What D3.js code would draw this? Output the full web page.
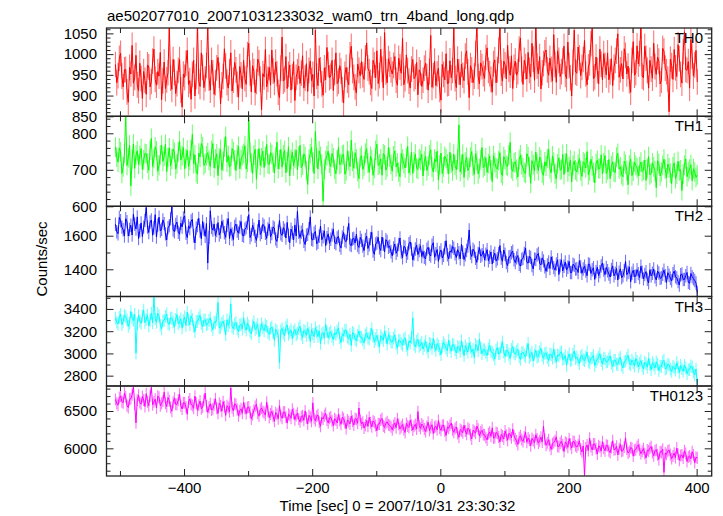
<!DOCTYPE html>
<html><head><meta charset="utf-8">
<script src="https://cdn.jsdelivr.net/npm/d3@7"></script>
<style>
body{margin:0;background:#fff}
svg{display:block}
text{font-family:"Liberation Sans",Arial,Helvetica,sans-serif;fill:#000}
</style>
</head><body>
<svg id="c" width="723" height="516"></svg>
<script>
const title = "ae502077010_20071031233032_wam0_trn_4band_long.qdp";
const xLabel = "Time [sec] 0 = 2007/10/31 23:30:32";
const yLabel = "Counts/sec";
const bandNames = ["TH0","TH1","TH2","TH3","TH0123"];
const bandColors = ["#ff0000","#00ff00","#0000ff","#00ffff","#ff00ff"];
const timeStart = -507, binSize = 2;

const th0 = [
975,931,948,990,1002,947,921,962,963,909,884,968,952,1021,930,944,997,926,912,978,941,893,958,937,
903,974,969,921,934,983,1012,939,925,958,947,1004,890,936,981,917,938,955,1068,942,915,987,956,905,
929,961,987,913,872,952,944,978,1009,927,936,891,951,985,899,946,1071,934,922,1003,968,919,940,973,
1065,942,913,985,955,903,931,967,992,949,880,926,946,1013,971,932,918,958,1003,911,937,980,962,927,
896,970,950,916,985,941,927,999,1026,954,909,972,958,907,934,988,979,940,866,953,945,1011,921,939,
968,925,1010,959,932,981,953,908,895,966,1041,935,939,994,917,951,974,913,946,982,888,944,957,971,
929,954,996,918,942,977,910,961,983,936,951,899,1058,947,924,990,962,928,901,967,938,1016,975,943,
947,985,912,956,1003,929,935,972,959,914,882,951,968,937,926,998,1019,960,944,921,906,976,961,948,
982,950,939,991,1027,966,958,932,917,985,974,943,1008,929,948,1012,963,919,1052,957,931,989,976,962,
952,973,994,937,925,990,969,954,1038,926,941,998,960,935,918,964,987,941,946,980,902,962,955,922,
937,966,978,946,913,958,1045,920,948,983,924,952,966,915,889,975,951,938,1001,929,930,984,943,961,
1062,941,919,988,957,926,976,949,936,995,1008,957,895,972,962,931,947,1001,1072,946,928,979,970,953,
941,992,1015,961,953,939,908,977,986,931,962,1009,1066,954,935,983,974,940,1021,964,949,996,917,968,
983,949,958,1012,1039,963,927,985,970,940,1004,961,945,1026,988,937,1074,971,952,994,916,955,977,1003,
1010,962,949,990,963,935,1047,975,932,1008,985,946,958,983,1019,951,941,1029,972,943,899,980,1058,957,
954,1017,991,948,968,987,1033,952,926,969,979,1025,1062,941,945,993,960,928,1012,976,938,1001,973,950,
1003,938,957,989,924,968,985,1007,1049,944,962,977,940,1013,997,952,971,936,908,985,1030,949,955,1020,
976,1001,1068,947,943,1019,990,961,918,985,964,942,1026,970,951,993,983,928,937,1014,1007,966,958,940,
861,988,972,939,1011,967,946,1023,989,951,930,1006,1054,963,961,982,918,1035,995,947,974,1009,933];

const th1 = [
762,735,721,760,749,690,708,744,848,712,733,768,656,729,771,704,740,752,715,739,758,701,727,745,
744,718,699,754,786,709,731,763,752,696,712,741,768,723,737,770,695,734,760,711,729,757,748,702,
716,749,779,727,738,761,703,731,754,709,726,755,797,717,741,693,688,746,735,772,763,712,718,738,
747,726,709,753,772,705,730,744,684,733,756,699,723,762,791,721,739,708,711,758,750,727,698,741,
764,703,727,739,745,766,702,721,836,748,719,690,740,756,674,729,758,712,733,751,706,737,769,716,
715,747,742,720,691,735,776,703,728,756,707,741,753,692,722,763,683,728,748,711,731,754,700,737,
767,706,713,744,736,698,660,729,744,761,721,690,805,733,702,752,737,715,614,702,726,739,751,718,
709,745,733,701,689,727,762,714,718,740,742,688,697,752,725,709,781,723,704,747,730,695,676,733,
739,701,711,746,758,719,693,737,727,685,704,753,770,712,716,730,685,744,741,699,708,761,734,715,
696,738,752,708,719,694,681,745,729,717,705,733,764,691,712,749,690,722,743,704,701,731,726,743,
683,724,737,698,711,741,755,707,694,729,722,751,672,713,746,690,708,737,731,716,689,748,718,697,
743,712,700,729,823,695,715,742,679,721,734,698,706,735,750,710,687,744,725,689,703,727,761,706,
711,733,693,717,738,700,668,739,720,706,702,725,747,691,684,736,728,712,709,741,775,703,696,719,
722,701,680,728,741,714,705,693,690,744,736,708,663,725,714,697,749,716,698,735,727,691,685,722,
710,731,756,703,692,738,721,689,675,716,733,699,701,742,687,719,744,694,709,727,667,712,724,700,
694,715,731,698,682,722,718,705,750,686,697,729,711,693,664,717,726,703,703,741,689,719,739,690,
700,728,676,711,722,694,693,735,745,702,708,687,681,724,715,698,659,713,730,684,696,721,712,705,
684,709,721,695,699,727,671,704,736,686,690,719,708,697,651,725,717,683,694,712,729,701,678,716,
705,691,662,708,719,676,688,723,697,700,643,689,712,730,681,695,702,714,670,703,694,679,686];

const th2 = [
1668,1624,1612,1709,1689,1651,1635,1598,1701,1683,1598,1637,1662,1604,1727,1668,1640,1712,1583,1629,1676,1595,1651,1690,
1768,1652,1619,1681,1693,1603,1647,1725,1592,1663,1710,1628,1638,1694,1672,1611,1575,1647,1659,1700,1771,1633,1624,1667,
1681,1620,1609,1674,1652,1706,1718,1615,1589,1658,1643,1687,1697,1599,1557,1645,1661,1703,1628,1582,1685,1640,1596,1672,
1437,1590,1748,1648,1633,1669,1601,1631,1678,1604,1622,1686,1655,1617,1590,1662,1702,1583,1641,1610,1577,1655,1669,1628,
1615,1651,1684,1603,1598,1639,1648,1676,1725,1589,1606,1662,1639,1596,1572,1628,1693,1607,1621,1668,1658,1615,1584,1640,
1670,1594,1613,1652,1645,1580,1566,1627,1691,1612,1602,1648,1632,1586,1679,1603,1558,1639,1617,1574,1664,1598,1745,1621,
1589,1620,1636,1567,1548,1603,1608,1641,1712,1579,1574,1614,1625,1552,1561,1597,1657,1576,1593,1629,1540,1588,1611,1555,
1579,1604,1638,1561,1552,1587,1596,1543,1527,1592,1619,1571,1564,1613,1673,1547,1541,1580,1585,1556,1609,1542,1530,1590,
1572,1538,1511,1577,1598,1524,1546,1583,1620,1509,1489,1551,1557,1590,1528,1512,1592,1549,1503,1576,1565,1531,1537,1504,
1480,1527,1551,1495,1514,1548,1586,1503,1469,1536,1532,1478,1497,1552,1563,1520,1455,1491,1521,1545,1488,1512,1540,1476,
1506,1471,1462,1520,1531,1489,1479,1543,1558,1472,1493,1518,1447,1499,1515,1467,1484,1528,1570,1486,1461,1509,1502,1535,
1525,1492,1470,1517,1498,1463,1549,1501,1458,1486,1512,1538,1634,1497,1476,1520,1507,1465,1441,1494,1529,1478,1486,1510,
1455,1489,1517,1451,1472,1503,1432,1478,1496,1449,1463,1492,1541,1467,1448,1515,1489,1440,1421,1473,1476,1498,1508,1457,
1440,1468,1482,1430,1419,1459,1465,1494,1527,1441,1437,1477,1471,1423,1402,1462,1458,1485,1494,1436,1426,1468,1450,1415,
1388,1426,1443,1405,1474,1438,1410,1395,1432,1457,1369,1421,1456,1390,1418,1443,1395,1412,1447,1380,1381,1430,1424,1401,
1403,1381,1451,1416,1376,1402,1418,1390,1362,1431,1429,1375,1397,1409,1340,1386,1412,1362,1386,1420,1437,1395,1368,1411,
1391,1372,1354,1399,1420,1361,1377,1405,1336,1382,1403,1350,1362,1391,1447,1368,1381,1414,1325,1376,1394,1357,1359,1398,
1374,1351,1418,1383,1343,1369,1386,1340,1319,1397,1361,1376,1402,1355,1337,1389,1378,1346,1350,1371,1395,1362,1322,1380,
1365,1347,1331,1374,1389,1356,1348,1327,1306,1368,1372,1339,1340,1362,1381,1322,1317,1375,1356,1344,1333,1318,1262];

const th3 = [
3318,3281,3264,3325,3352,3259,3287,3345,3331,3302,3243,3270,3376,3318,3296,3352,3002,3267,3341,3290,3270,3337,3389,3276,
3305,3344,3248,3297,3362,3276,3510,3312,3279,3360,3338,3254,3221,3291,3297,3333,3355,3268,3262,3321,3316,3283,3236,3307,
3349,3265,3283,3312,3227,3295,3328,3251,3371,3304,3259,3339,3307,3242,3195,3286,3288,3317,3344,3271,3241,3299,3302,3258,
3263,3298,3319,3247,3212,3285,3274,3306,3458,3229,3236,3271,3291,3245,3168,3302,3253,3280,3446,3238,3224,3266,3280,3221,
3197,3254,3262,3219,3321,3240,3209,3273,3248,3195,3176,3251,3287,3213,3230,3262,3150,3209,3268,3231,3204,3257,3243,3189,
3172,3226,3239,3188,3118,3215,3201,3160,2916,3205,3224,3183,3160,3236,3257,3171,3191,3212,3133,3194,3215,3167,3180,3221,
3246,3170,3142,3209,3198,3163,3227,3185,3107,3214,3175,3151,3232,3192,3153,3203,3089,3176,3188,3138,3261,3195,3140,3181,
3196,3154,3125,3187,3168,3201,3229,3140,3097,3176,3159,3208,3210,3147,3132,3173,3071,3190,3177,3129,3114,3162,3202,3146,
3148,3121,3093,3168,3184,3138,3129,3175,3223,3150,3106,3133,3162,3110,3058,3160,3141,3118,3197,3149,3083,3171,3136,3104,
3102,3138,3167,3086,3049,3120,3116,3091,3074,3127,3140,3069,3031,3113,3095,3142,3319,3079,3060,3108,3128,3062,3077,3099,
3041,3073,3109,3050,3012,3094,3081,3044,3135,3068,3026,3089,3069,3037,2988,3061,3098,3076,3047,3025,3121,3056,3019,3083,
3076,3031,3004,3062,3057,3019,3113,3048,2979,3070,3042,3011,3093,3052,3015,3038,2962,3081,3064,3024,3130,3049,2997,3033,
3035,3008,2981,3042,3072,3017,3009,2989,2948,3030,3052,2996,3000,3058,3104,3012,2974,3027,3026,2991,2955,3037,3061,3004,
2993,3020,3037,2971,2946,3005,3012,2985,2968,3034,3089,2962,2981,3009,2932,2990,3028,2967,2975,3016,3047,2980,2957,2999,
3006,2961,2938,2994,2989,2957,3041,2973,2921,2988,2977,3003,3016,2946,2952,2981,2893,2962,2996,2935,2944,2991,3023,2952,
2968,2939,2907,2972,2985,2944,2936,2965,3012,2929,2917,2955,2961,2983,2889,2926,2949,2968,2998,2937,2904,2958,2952,2921,
2926,2951,2978,2913,2883,2937,2941,2904,2900,2949,2967,2892,2871,2925,2932,2958,2985,2910,2896,2941,2918,2886,2955,2929,
2879,2912,2935,2887,2862,2921,2909,2876,2953,2898,2851,2919,2898,2868,2924,2903,2846,2885,2883,2927,2940,2861,2867,2902,
2896,2858,2838,2884,2871,2849,2917,2876,2829,2892,2862,2841,2893,2869,2818,2853,2855,2888,2879,2833,2807,2860,2724];

const th0123 = [
6655,6603,6578,6681,6702,6625,6611,6738,6689,6570,6547,6657,6664,6719,6826,6589,6341,6646,6713,6612,6592,6695,6648,6561,
6731,6625,6570,6702,6817,6584,6622,6658,6540,6699,6685,6571,6603,6632,6752,6605,6559,6680,6638,6548,6496,6617,6671,6591,
6588,6645,6724,6569,6527,6612,6609,6553,6456,6621,6662,6590,6574,6536,6698,6607,6511,6578,6633,6530,6552,6643,6740,6567,
6483,6549,6597,6512,6530,6585,6664,6538,6468,6604,6571,6497,6625,6556,6441,6571,6548,6489,6809,6543,6502,6596,6586,6521,
6437,6503,6529,6471,6614,6533,6465,6548,6553,6486,6392,6451,6508,6562,6587,6470,6431,6519,6540,6492,6479,6445,6618,6501,
6412,6461,6496,6429,6362,6478,6455,6396,6571,6437,6403,6482,6487,6418,6338,6456,6442,6402,6525,6465,6384,6440,6469,6393,
6356,6423,6438,6375,6501,6408,6327,6440,6415,6361,6609,6398,6370,6429,6449,6350,6296,6413,6392,6437,6467,6378,6341,6404,
6421,6368,6304,6396,6378,6339,6456,6372,6322,6415,6397,6346,6264,6381,6358,6327,6431,6362,6311,6399,6390,6335,6540,6378,
6329,6351,6271,6310,6372,6294,6415,6343,6289,6367,6348,6305,6236,6328,6326,6379,6401,6298,6282,6334,6355,6316,6307,6288,
6248,6307,6339,6276,6395,6322,6261,6290,6318,6251,6212,6334,6297,6279,6376,6310,6244,6296,6320,6258,6492,6301,6268,6325,
6303,6258,6225,6294,6351,6237,6279,6316,6198,6282,6296,6249,6372,6270,6240,6305,6311,6231,6173,6288,6267,6310,6338,6247,
6214,6266,6285,6198,6147,6251,6236,6209,6309,6232,6188,6270,6254,6181,6126,6242,6227,6203,6298,6257,6163,6219,6241,6185,
6180,6143,6112,6197,6219,6160,6275,6138,6143,6211,6201,6152,6084,6186,6166,6124,6232,6175,6109,6201,6186,6140,6257,6168,
6127,6098,6052,6141,6168,6117,6091,6152,6214,6081,6138,6109,6035,6133,6105,6074,6182,6126,6070,6101,6149,6085,6296,6120,
6041,6075,6116,6038,5986,6061,6079,6102,6153,6027,6022,6069,6094,6044,5957,6083,6068,6013,6130,6055,6003,6092,6087,6034,
6016,6049,6101,5987,5952,6032,5638,6006,6045,5971,6134,6024,5979,6057,6058,5996,5924,6035,6017,5962,6089,6001,5968,6041,
6036,5968,5942,6010,6101,5981,5987,6027,5913,5995,6052,5960,5971,6018,6140,5989,5938,5957,6009,6002,5895,5974,5984,6021,
6047,5982,5929,5960,5996,5931,5870,5978,5963,6002,6024,5944,5901,5969,5982,5913,5851,5956,5948,5987,5677,5938,5919,5965,
5976,5914,5862,5897,5935,5876,6003,5922,5840,5903,5911,5869,5968,5931,5823,5884,5897,5859,5954,5912,5809,5880,5870];

const errors = [31, 27, 40, 57, 80];
const yDomains = [[850,1063],[600,846.6],[1238,1775],[2707,3512],[5629,6835]];
const yMajorTicks = [[850,900,950,1000,1050],[600,700,800],[1400,1600],[2800,3000,3200,3400],[6000,6500]];
const yMinorSteps = [10,20,100,100,100];
const xMajorTicks = [-400,-200,0,200,400];
const xMinorTicks = [-500,-300,-100,100,300];

const series = [th0, th1, th2, th3, th0123];

const svg = d3.select("#c");
const left = 106.5, right = 711.7;
const bounds = [28, 116.3, 206.3, 296.5, 386, 476];
const frameColor = "#222";
const x = d3.scaleLinear().domain([-521, 423.5]).range([left, right]);
const defs = svg.append("defs");

function styleAxis(g){
  g.select(".domain").remove();
  g.selectAll(".tick line").attr("stroke", frameColor).attr("stroke-width", 1);
  g.selectAll(".tick text").attr("font-size", 15).attr("font-family", '"Liberation Sans",Arial,sans-serif').attr("fill","#000");
}

bandNames.forEach((name, k) => {
  const top = bounds[k], bot = bounds[k+1];
  const y = d3.scaleLinear().domain(yDomains[k]).range([bot, top]);
  const cid = "clip" + k;
  defs.append("clipPath").attr("id", cid).append("rect")
    .attr("x", left).attr("y", top).attr("width", right - left).attr("height", bot - top);
  const data = series[k].map((v, i) => ({t: timeStart + binSize * i, v}));
  const dg = svg.append("g").attr("clip-path", `url(#${cid})`);
  dg.selectAll("line.err").data(data).join("line").attr("class","err")
    .attr("x1", d => x(d.t)).attr("x2", d => x(d.t))
    .attr("y1", d => y(d.v - errors[k])).attr("y2", d => y(d.v + errors[k]))
    .attr("stroke", bandColors[k]).attr("stroke-opacity", 0.55).attr("stroke-width", 1.1);
  dg.append("path").datum(data)
    .attr("d", d3.line().x(d => x(d.t)).y(d => y(d.v)))
    .attr("fill", "none").attr("stroke", bandColors[k]).attr("stroke-width", 1);

  const [d0, d1] = yDomains[k];
  const st = yMinorSteps[k];
  const minor = d3.range(Math.ceil(d0 / st) * st, d1 + 1e-9, st).filter(v => !yMajorTicks[k].includes(v));

  svg.append("g").attr("transform", `translate(${left},0)`)
    .call(d3.axisLeft(y).tickValues(minor).tickSize(-4).tickFormat("")).call(styleAxis);
  svg.append("g").attr("transform", `translate(${left},0)`)
    .call(d3.axisLeft(y).tickValues(yMajorTicks[k]).tickSize(-7).tickPadding(9.5).tickFormat(d3.format("d"))).call(styleAxis);
  svg.append("g").attr("transform", `translate(${right},0)`)
    .call(d3.axisRight(y).tickValues(minor).tickSize(-4).tickFormat("")).call(styleAxis);
  svg.append("g").attr("transform", `translate(${right},0)`)
    .call(d3.axisRight(y).tickValues(yMajorTicks[k]).tickSize(-7).tickFormat("")).call(styleAxis);
  svg.append("g").attr("transform", `translate(0,${top})`)
    .call(d3.axisTop(x).tickValues(xMinorTicks).tickSize(-5).tickFormat("")).call(styleAxis);
  svg.append("g").attr("transform", `translate(0,${top})`)
    .call(d3.axisTop(x).tickValues(xMajorTicks).tickSize(-7).tickFormat("")).call(styleAxis);
  svg.append("g").attr("transform", `translate(0,${bot})`)
    .call(d3.axisBottom(x).tickValues(xMinorTicks).tickSize(-5).tickFormat("")).call(styleAxis);
  const last = k === bandNames.length - 1;
  svg.append("g").attr("transform", `translate(0,${bot})`)
    .call(d3.axisBottom(x).tickValues(xMajorTicks).tickSize(-7).tickPadding(6.5)
      .tickFormat(last ? d3.format("d") : "")).call(styleAxis);

  svg.append("rect").attr("x", left).attr("y", top).attr("width", right - left).attr("height", bot - top)
    .attr("fill", "none").attr("stroke", frameColor).attr("stroke-width", 1.3);

  svg.append("text").attr("x", 703).attr("y", top + 15).attr("text-anchor", "end")
    .attr("font-size", 15).text(name);
});

svg.append("text").attr("x", 107).attr("y", 21).attr("font-size", 15).text(title);
svg.append("text").attr("x", 397.5).attr("y", 511).attr("text-anchor", "middle").attr("font-size", 15).text(xLabel);
svg.append("text").attr("transform", "translate(47,259) rotate(-90)").attr("text-anchor", "middle")
  .attr("font-size", 15).text(yLabel);
</script>
</body></html>
